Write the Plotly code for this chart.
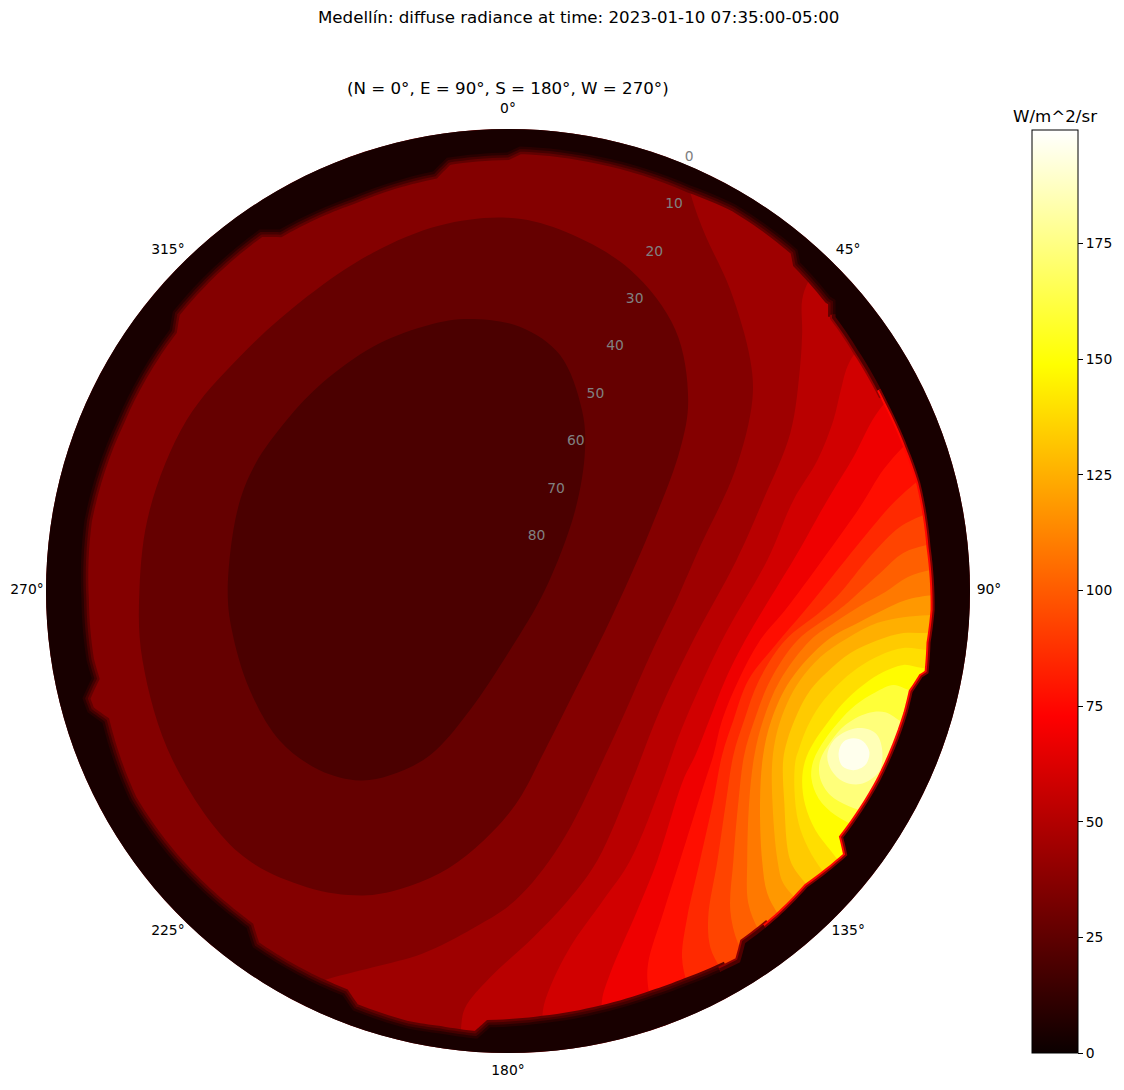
import numpy as np
import plotly.graph_objects as go

# Sky positions are kept as east/north offsets, in degrees away from the zenith.
horizon_east = [-11.9, -0.2, 2.3, 17.9, 35.5, 44.3, 56.4, 56.9, 62.8, 63.8, 63.8, 68.1, 73.9, 77.8, 80.3, 82.3, 83.1, 82.3, 81.9, 80.7, 78.8, 77.8, 72.5, 65.3, 66.1, 58.3, 52.5, 46.2, 45.2, 34.9, 28.3, 18.5, 6.8, -3.5, -6.0, -13.3, -19.7, -30.2, -32.2, -49.7, -50.9, -52.8, -65.3, -73.7, -79.0, -81.9, -82.9, -81.1, -82.1, -83.1, -82.5, -76.1, -65.9, -65.3, -48.4, -44.5, -30.4, -14.6]
horizon_north = [84.4, 85.4, 86.6, 84.6, 79.0, 75.3, 66.5, 64.0, 57.3, 56.7, 53.4, 47.0, 36.7, 28.1, 21.1, 8.6, -3.7, -10.1, -16.0, -16.8, -19.7, -23.8, -36.9, -48.0, -51.5, -57.7, -63.6, -68.6, -72.3, -76.8, -79.2, -82.1, -84.2, -85.0, -87.2, -86.2, -85.2, -81.7, -78.8, -69.4, -65.7, -64.2, -52.5, -40.8, -25.7, -23.6, -20.9, -17.0, -13.5, -1.8, 13.8, 33.3, 50.9, 54.4, 70.4, 70.4, 76.8, 81.7]

# Closed regions around the minimum of the sky.
low19_east = [-8.4, 2.3, 10.1, 14.4, 15.0, 13.1, 7.2, 0.4, -7.4, -15.2, -23.0, -28.9, -36.7, -44.5, -50.3, -53.8, -54.6, -52.7, -49.3, -43.1, -36.1, -26.3, -16.6]
low19_north = [53.0, 51.5, 46.0, 35.3, 27.5, 15.8, 0.2, -11.5, -23.2, -32.0, -35.9, -36.9, -34.9, -29.1, -19.3, -7.6, 0.2, 15.8, 24.6, 33.3, 40.6, 47.6, 51.5]
low27_east = [-0.2, 10.1, 23.8, 32.6, 35.1, 33.5, 27.7, 19.9, 12.1, 7.2, 1.4, -6.4, -13.3, -21.1, -28.3, -39.2, -52.3, -65.3, -71.2, -71.8, -69.8, -62.6, -52.3, -39.2, -26.3, -13.3]
low27_north = [72.7, 70.4, 62.6, 50.9, 37.2, 27.5, 11.9, -5.7, -21.3, -31.0, -41.7, -50.1, -55.0, -58.1, -59.3, -57.7, -51.1, -33.0, -13.5, 0.2, 15.8, 33.3, 45.6, 57.3, 65.9, 71.2]

# Contours on the bright side, listed from their northern to their southern end.
high44_east = [34.5, 35.9, 38.4, 43.3, 47.2, 47.6, 44.3, 37.4, 33.0, 27.7, 19.9, 10.1, 1.4, -6.8, -16.6, -26.3, -36.1, -40.6]
high44_north = [82.1, 76.2, 69.4, 58.7, 45.0, 37.2, 23.6, 8.6, -1.4, -12.5, -30.0, -49.5, -60.3, -65.7, -70.6, -73.3, -75.9, -77.8]
high52_east = [61.2, 58.5, 57.3, 57.3, 56.9, 55.0, 49.7, 44.5, 36.1, 29.6, 24.2, 17.4, 11.7, 4.9, -3.5, -8.4, -9.2, -9.4]
high52_north = [64.2, 60.3, 56.7, 50.3, 43.7, 30.8, 17.7, 6.0, -9.6, -23.2, -36.9, -52.5, -60.3, -67.5, -75.3, -81.3, -85.6, -88.0]
high59_east = [69.6, 67.7, 66.1, 64.7, 63.4, 60.3, 55.6, 50.5, 41.7, 33.5, 30.2, 23.8, 18.5, 12.1, 8.2, 6.8, 6.8]
high59_north = [48.0, 46.4, 43.7, 38.6, 33.3, 25.5, 17.7, 6.0, -9.6, -27.7, -36.9, -52.5, -60.3, -69.4, -77.2, -81.7, -86.6]
high68_east = [75.9, 73.5, 71.0, 67.3, 62.2, 56.4, 46.2, 42.3, 39.2, 36.5, 34.1, 29.1, 25.2, 19.9, 18.3, 18.5]
high68_north = [38.8, 36.7, 33.3, 26.1, 17.7, 7.4, -9.6, -17.4, -25.2, -32.0, -36.9, -52.5, -62.2, -74.5, -79.8, -85.6]
high77_east = [79.4, 77.0, 73.1, 68.6, 61.2, 54.0, 49.1, 44.9, 41.7, 40.0, 37.8, 33.5, 30.2, 27.3, 27.3, 28.7]
high77_north = [30.4, 28.1, 23.6, 16.4, 6.0, -3.7, -9.6, -17.4, -25.2, -32.0, -38.8, -52.5, -62.8, -72.5, -77.2, -82.7]
high85_east = [81.3, 79.4, 75.1, 70.0, 65.7, 57.9, 52.1, 46.8, 43.9, 41.7, 40.0, 37.4, 34.9, 33.9, 34.9, 36.5]
high85_north = [22.6, 21.1, 17.2, 11.3, 6.0, -3.7, -10.5, -17.4, -25.2, -32.0, -40.8, -52.5, -63.6, -71.4, -76.4, -79.8]
high93_east = [83.3, 80.9, 76.4, 70.6, 64.7, 60.8, 54.0, 48.9, 46.0, 43.9, 42.5, 40.8, 39.0, 39.4, 41.3, 42.9]
high93_north = [15.8, 14.8, 12.5, 6.8, -0.4, -4.1, -9.6, -17.4, -25.2, -32.0, -40.8, -52.5, -63.6, -69.4, -73.5, -76.8]
high101_east = [84.2, 81.7, 77.0, 72.5, 66.7, 64.4, 56.4, 51.1, 48.0, 46.0, 44.9, 43.9, 43.3, 44.7, 46.8]
high101_north = [9.6, 9.0, 7.4, 3.5, -1.8, -3.7, -9.6, -17.4, -25.2, -32.0, -40.8, -52.5, -62.2, -68.4, -72.3]
high109_east = [85.2, 82.3, 77.8, 73.5, 68.6, 63.8, 58.9, 53.0, 49.7, 48.0, 47.0, 46.6, 46.8, 48.8, 51.1]
high109_north = [4.5, 4.1, 2.7, -0.2, -2.9, -6.0, -9.6, -17.4, -25.2, -32.0, -40.8, -52.5, -60.8, -66.1, -69.6]
high118_east = [85.2, 82.7, 77.4, 73.1, 68.6, 62.2, 55.0, 51.3, 49.7, 49.1, 49.5, 50.5, 52.5, 55.0]
high118_north = [-0.6, -0.8, -1.8, -3.7, -6.0, -9.6, -17.4, -25.2, -32.0, -40.8, -52.5, -58.9, -62.8, -66.1]
high125_east = [85.2, 81.7, 77.0, 72.0, 66.1, 60.8, 56.9, 54.4, 52.5, 51.5, 51.5, 52.5, 53.6, 56.6, 58.9]
high125_north = [-4.7, -4.7, -5.1, -6.2, -9.2, -12.9, -17.4, -21.8, -27.1, -33.0, -40.8, -52.5, -56.9, -60.6, -63.8]
high133_east = [85.2, 81.7, 77.0, 72.0, 66.7, 62.2, 58.9, 56.4, 54.4, 53.6, 53.8, 55.0, 57.5, 60.5]
high133_north = [-8.0, -8.2, -8.2, -9.6, -12.1, -15.8, -19.3, -23.8, -29.1, -33.0, -40.8, -52.5, -56.4, -59.7]
high139_east = [85.2, 81.7, 77.0, 72.5, 68.1, 64.2, 60.8, 58.3, 56.6, 56.0, 55.8, 56.6, 58.5, 61.2, 63.2]
high139_north = [-11.5, -11.5, -11.1, -12.5, -15.0, -18.3, -22.2, -26.5, -31.0, -33.0, -38.8, -45.2, -50.1, -54.4, -56.7]
high148_east = [84.2, 80.7, 77.0, 73.1, 69.2, 65.3, 62.2, 59.5, 57.9, 57.3, 57.9, 59.9, 62.8, 65.7]
high148_north = [-15.0, -15.0, -14.4, -15.8, -18.3, -21.8, -25.7, -29.6, -33.0, -36.9, -41.7, -46.6, -50.5, -54.0]
high160_east = [82.3, 78.4, 75.1, 71.6, 67.7, 64.4, 61.6, 59.5, 59.1, 60.5, 63.8, 68.3, 71.6]
high160_north = [-19.3, -19.3, -18.3, -19.7, -22.2, -25.5, -29.1, -33.0, -36.5, -40.4, -43.7, -46.2, -48.2]
high173_east = [81.3, 76.8, 73.5, 70.0, 65.7, 62.8, 60.8, 60.8, 62.8, 66.3, 70.2, 73.5]
high173_north = [-27.1, -25.5, -23.6, -23.8, -26.1, -29.4, -33.0, -36.5, -39.8, -41.9, -43.1, -43.7]

# The two rings around the peak close on themselves.
peak185_east = [68.1, 71.6, 72.9, 72.2, 68.6, 65.3, 63.0, 62.2, 63.8]
peak185_north = [-26.7, -27.7, -31.0, -35.3, -37.6, -37.1, -34.9, -32.0, -28.7]
peak196_east = [67.3, 69.2, 70.4, 69.6, 67.3, 65.1, 64.4, 65.3]
peak196_north = [-28.7, -29.3, -31.4, -33.9, -34.9, -34.1, -31.6, -29.4]

RING_VALUE = 4
BASE_VALUE = 36
COLORBAR_TICKS = [0, 25, 50, 75, 100, 125, 150, 175]
RADIAL_TICKS = [0, 10, 20, 30, 40, 50, 60, 70, 80]
ANGULAR_TICKS = [0, 45, 90, 135, 180, 225, 270, 315]
VALUE_MAX = 199.5
LABEL_ELEVATION = -3.7

closed_regions = [
    (27, low27_east, low27_north),
    (19, low19_east, low19_north),
]
open_regions = [
    (44, high44_east, high44_north), (52, high52_east, high52_north),
    (59, high59_east, high59_north), (68, high68_east, high68_north),
    (77, high77_east, high77_north), (85, high85_east, high85_north),
    (93, high93_east, high93_north), (101, high101_east, high101_north),
    (109, high109_east, high109_north), (118, high118_east, high118_north),
    (125, high125_east, high125_north), (133, high133_east, high133_north),
    (139, high139_east, high139_north), (148, high148_east, high148_north),
    (160, high160_east, high160_north), (173, high173_east, high173_north),
]
peak_regions = [
    (185, peak185_east, peak185_north),
    (196, peak196_east, peak196_north),
]

# The matplotlib "hot" ramp.
HOT_STOPS = [(0.0, (11, 0, 0)), (0.365, (255, 0, 0)), (0.746, (255, 255, 0)), (1.0, (255, 255, 255))]
hot_scale = [[p, "rgb(%d,%d,%d)" % c] for p, c in HOT_STOPS]


def hot(value):
    t = value / VALUE_MAX
    stops = [s[0] for s in HOT_STOPS]
    rgb = [np.interp(t, stops, [s[1][i] for s in HOT_STOPS]) for i in range(3)]
    return "rgb(%d,%d,%d)" % tuple(round(c) for c in rgb)


def to_polar(east, north):
    east, north = np.asarray(east, float), np.asarray(north, float)
    azimuth = np.degrees(np.arctan2(east, north)) % 360
    elevation = 90 - np.hypot(east, north)
    return azimuth, elevation


def follow_arcs(azimuth, elevation, steps=8):
    # Straight runs in azimuth/elevation, so the profile bends with the dome.
    azimuth = np.unwrap(azimuth, period=360)
    index = np.arange(len(azimuth))
    fine = np.linspace(0, len(azimuth) - 1, (len(azimuth) - 1) * steps + 1)
    return np.interp(fine, index, azimuth), np.interp(fine, index, elevation)


def area(value, azimuth, elevation, shape="spline"):
    return go.Scatterpolar(
        theta=azimuth, r=elevation, mode="lines", fill="toself",
        fillcolor=hot(value), line=dict(width=0, color=hot(value), shape=shape),
        hoverinfo="skip", showlegend=False,
    )


def edge(azimuth, elevation, width, value):
    return go.Scatterpolar(
        theta=azimuth, r=elevation, mode="lines",
        line=dict(width=width, color=hot(value)),
        hoverinfo="skip", showlegend=False,
    )


def widen(mask):
    # One extra sample each way, so neighbouring zones overlap without a gap.
    return mask | np.roll(mask, 1) | np.roll(mask, -1)


fig = go.Figure()

# Whole dome at the level that fills most of the sky.
dome_az = np.linspace(0, 360, 181)
fig.add_trace(area(BASE_VALUE, dome_az, np.zeros(181), shape="linear"))

for value, east, north in closed_regions:
    az, el = to_polar(east + east[:1], north + north[:1])
    fig.add_trace(area(value, az, el))

# Bright regions are closed along the rim, where the horizon ring covers them.
for value, east, north in open_regions:
    az, el = to_polar(east, north)
    rim_az = np.linspace(az[-1], az[0], 30)
    fig.add_trace(area(value, np.r_[az, rim_az], np.r_[el, np.full(30, 1.5)]))

for value, east, north in peak_regions:
    az, el = to_polar(east + east[:1], north + north[:1])
    fig.add_trace(area(value, az, el))

# Soft edge where the radiance falls away at the obstructed horizon.
hor_az, hor_el = to_polar(horizon_east + horizon_east[:1], horizon_north + horizon_north[:1])
hor_az, hor_el = follow_arcs(hor_az, hor_el)
compass = hor_az % 360
lit = (compass > 62) & (compass < 142)
shoulder = ((compass > 50) & (compass <= 62)) | ((compass >= 142) & (compass < 150))
shaded = ~(lit | shoulder)
zones = [
    (shaded, [(15, 26), (10, 17), (5, 9)]),
    (shoulder, [(11, 40), (7, 20)]),
    (lit, [(8, 75), (4, 35)]),
]
for mask, strokes in zones:
    for width, value in strokes:
        fig.add_trace(edge(np.where(widen(mask), hor_az, np.nan), hor_el, width, value))

# Ring outside the horizon profile: outer circle, then the profile the other way round.
circle_az = np.linspace(hor_az[0], hor_az[0] + 360, 181)
ring_az = np.r_[circle_az, hor_az[::-1]]
ring_el = np.r_[np.zeros(181), hor_el[::-1]]
fig.add_trace(area(RING_VALUE, ring_az, ring_el, shape="linear"))

# Elevation labels beside the 22.5 degree spoke.
fig.add_trace(go.Scatterpolar(
    theta=[22.5] * len(RADIAL_TICKS), r=RADIAL_TICKS, mode="text",
    text=[str(v) for v in RADIAL_TICKS], textposition="top right",
    textfont=dict(size=13.89, color="gray"),
    hoverinfo="skip", showlegend=False,
))

# Compass labels just outside the rim.
fig.add_trace(go.Scatterpolar(
    theta=ANGULAR_TICKS, r=[LABEL_ELEVATION] * len(ANGULAR_TICKS), mode="text",
    text=["%d°" % a for a in ANGULAR_TICKS], textposition="middle center",
    textfont=dict(size=13.89, color="black"),
    hoverinfo="skip", showlegend=False,
))

# Colour bar for the radiance scale.
fig.add_trace(go.Scatterpolar(
    theta=[0, 0], r=[45, 45], mode="markers",
    marker=dict(
        size=1, opacity=0, color=[0, VALUE_MAX], cmin=0, cmax=VALUE_MAX,
        colorscale=hot_scale, showscale=True,
        colorbar=dict(
            x=1032 / 1124, xanchor="left", xpad=0,
            y=1 - 130 / 1090, yanchor="top", ypad=0,
            thickness=46, thicknessmode="pixels",
            len=923, lenmode="pixels",
            tickvals=COLORBAR_TICKS, ticks="outside", ticklen=5, tickwidth=1,
            tickcolor="black", outlinewidth=1, outlinecolor="black",
            tickfont=dict(size=13.89, color="black"),
        ),
    ),
    hoverinfo="skip", showlegend=False,
))

fig.update_layout(
    width=1124, height=1090, autosize=False,
    margin=dict(l=0, r=0, t=0, b=0),
    paper_bgcolor="white",
    font=dict(family="DejaVu Sans", size=13.89, color="black"),
    polar=dict(
        domain=dict(x=[27 / 1124, 989 / 1124], y=[18 / 1090, 980 / 1090]),
        bgcolor="rgba(0,0,0,0)",
        angularaxis=dict(
            rotation=90, direction="clockwise", tickvals=ANGULAR_TICKS,
            showticklabels=False, showgrid=False, showline=False, ticks="",
        ),
        radialaxis=dict(
            range=[90, LABEL_ELEVATION], angle=67.5, tickvals=RADIAL_TICKS,
            showticklabels=False, showgrid=False, showline=False, ticks="",
        ),
    ),
    annotations=[
        dict(text="Medellín: diffuse radiance at time: 2023-01-10 07:35:00-05:00",
             x=578 / 1124, y=1 - 18 / 1090, xref="paper", yref="paper",
             xanchor="center", yanchor="middle", showarrow=False, font=dict(size=16.67)),
        dict(text="(N = 0°, E = 90°, S = 180°, W = 270°)",
             x=508 / 1124, y=1 - 89 / 1090, xref="paper", yref="paper",
             xanchor="center", yanchor="middle", showarrow=False, font=dict(size=16.67)),
        dict(text="W/m^2/sr",
             x=1055 / 1124, y=1 - 116 / 1090, xref="paper", yref="paper",
             xanchor="center", yanchor="middle", showarrow=False, font=dict(size=16.67)),
    ],
)

fig.write_html("out.html")
